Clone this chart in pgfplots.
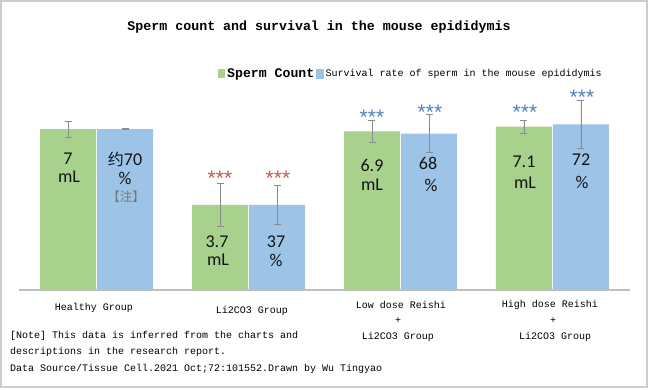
\documentclass[border=0pt]{standalone}
\usepackage{pgfplots}
\pgfplotsset{compat=1.18}
\usepackage{fontspec}
\setmainfont{Liberation Mono}
\newfontfamily\monof{Liberation Mono}
\newfontfamily\calf{Carlito}
\newfontfamily\cjk{Noto Sans CJK SC}
\newfontfamily\starf{Liberation Sans}
\definecolor{barg}{RGB}{169,209,142}
\definecolor{barb}{RGB}{157,195,230}
\definecolor{errc}{RGB}{140,140,140}
\definecolor{starr}{RGB}{196,89,77}
\definecolor{starb}{RGB}{79,129,189}
\definecolor{axisc}{RGB}{191,191,191}
\definecolor{framec}{RGB}{205,205,205}
\definecolor{txt}{RGB}{20,20,20}
\definecolor{notec}{RGB}{120,120,120}
\begin{document}
\begin{tikzpicture}
\fill[white] (0,0) rectangle (650pt,-389pt);
\draw[framec, line width=2pt] (1pt,-1pt) rectangle (647pt,-387pt);

% Sperm count axis (mL)
\begin{axis}[at={(19pt,-290pt)}, anchor=south west, scale only axis,
  width=611pt, height=230pt, xmin=-0.51, xmax=3.51, ymin=0, ymax=10,
  ybar, axis y line=none, axis x line*=bottom,
  x axis line style={-, draw=axisc, line width=1.8pt},
  xtick=\empty, ytick=\empty, clip=false,
  legend columns=2,
  legend style={at={(0.3257,0.94)}, anchor=west, draw=none, fill=none,
    inner sep=0pt, nodes={inner xsep=2pt, inner ysep=1pt, anchor=west},
    /tikz/every even column/.append style={column sep=0pt}},
  legend cell align=left]
\addplot[fill=barg, draw=none, bar width=56pt, bar shift=-28.5pt,
  legend image code/.code={\fill[barg] (0pt,-4.5pt) rectangle (7pt,4.5pt);},
  error bars/.cd, y dir=both, y explicit,
  error bar style={errc, line width=0.8pt},
  error mark options={rotate=90, errc, mark size=3.5pt, line width=0.8pt}]
  coordinates {(0,7) +- (0,0.35) (1,3.7) +- (0,0.93) (2,6.9) +- (0,0.49) (3,7.1) +- (0,0.29)};
\addlegendentry{\monof\bfseries\fontsize{13.2}{14}\selectfont Sperm Count}
\addlegendimage{legend image code/.code={\fill[barb] (0pt,-4.5pt) rectangle (7pt,4.5pt);}}
\addlegendentry{\monof\fontsize{10}{12}\selectfont Survival rate of sperm in the mouse epididymis}
\end{axis}

% Survival rate axis (%)
\begin{axis}[at={(19pt,-290pt)}, anchor=south west, scale only axis,
  width=611pt, height=230pt, xmin=-0.51, xmax=3.51, ymin=0, ymax=100,
  ybar, axis lines=none, xtick=\empty, ytick=\empty, clip=false]
\addplot[fill=barb, draw=none, bar width=56pt, bar shift=28.5pt,
  error bars/.cd, y dir=both, y explicit,
  error bar style={errc, line width=0.8pt},
  error mark options={rotate=90, errc, mark size=3.5pt, line width=0.8pt}]
  coordinates {(0,70) +- (0,0.3) (1,37) +- (0,8.3) (2,68) +- (0,8.3) (3,72) +- (0,10.5)};
\end{axis}

\begin{scope}[x=1pt,y=-1pt]
\node[font=\monof\bfseries\fontsize{13.3}{14}\selectfont] at (319,27) {Sperm count and survival in the mouse epididymis};

% bar labels
\begin{scope}[every node/.style={font=\calf\fontsize{18}{20}\selectfont, text=txt, inner sep=0pt}]
\node at (68,159) {7};
\node at (69,177) {mL};
\node at (125,159) {{\cjk\fontsize{16}{18}\selectfont 约}70};
\node at (125,178) {\%};
\node[text=notec, font=\cjk\fontsize{12.5}{14}\selectfont] at (126,197) {【注】};
\node at (217,242) {3.7};
\node at (218,260) {mL};
\node at (276,242) {37};
\node at (276,260) {\%};
\node at (372,165) {6.9};
\node at (372,185) {mL};
\node at (428,163) {68};
\node at (431,185) {\%};
\node at (524,162) {7.1};
\node at (525,183) {mL};
\node at (581,160) {72};
\node at (582,182) {\%};
\end{scope}

% significance stars
\begin{scope}[every node/.style={font=\starf\fontsize{21}{21}\selectfont, inner sep=0pt, anchor=base}]
\node[text=starr] at (220,185) {***};
\node[text=starr] at (278,185) {***};
\node[text=starb] at (372,124) {***};
\node[text=starb] at (430,119) {***};
\node[text=starb] at (525,119) {***};
\node[text=starb] at (582,104) {***};
\end{scope}

% category labels
\begin{scope}[every node/.style={font=\monof\fontsize{10}{12}\selectfont, inner sep=0pt}]
\node at (94,308) {Healthy Group};
\node at (252,311) {Li2CO3 Group};
\node at (401,305) {Low dose Reishi};
\node at (398,321) {+};
\node at (398,337) {Li2CO3 Group};
\node at (550,305) {High dose Reishi};
\node at (553,321) {+};
\node at (555,337) {Li2CO3 Group};
\node[anchor=west] at (10,336) {[Note] This data is inferred from the charts and};
\node[anchor=west] at (10,352) {descriptions in the research report.};
\node[anchor=west] at (10,369) {Data Source/Tissue Cell.2021 Oct;72:101552.Drawn by Wu Tingyao};
\end{scope}
\end{scope}
\end{tikzpicture}
\end{document}
